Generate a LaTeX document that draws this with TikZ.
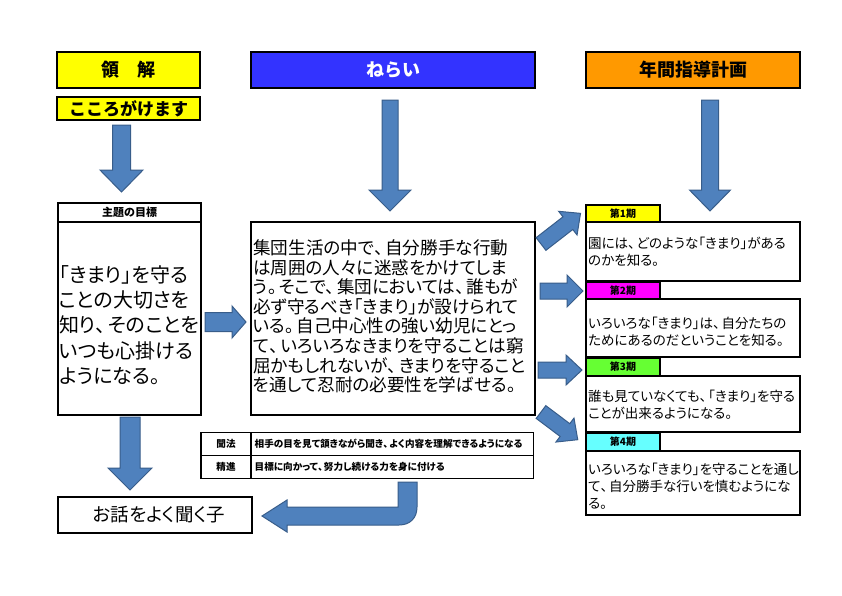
\documentclass[tikz,border=0pt]{standalone}
\usepackage{fontspec}
\setmainfont{Noto Sans CJK JP}[RawFeature=+palt]
\newfontfamily\jpf{Noto Sans CJK JP}
\definecolor{hyellow}{HTML}{FFFF00}
\definecolor{hblue}{HTML}{3333FF}
\definecolor{horange}{HTML}{FF9900}
\definecolor{hmag}{HTML}{FF00FF}
\definecolor{hgreen}{HTML}{66FF33}
\definecolor{hcyan}{HTML}{66FFFF}
\definecolor{arrfill}{HTML}{4F81BD}
\definecolor{arrdraw}{HTML}{385D8A}
\newcommand\blockarr[7]{\draw[barrow,shift={#1},rotate=#2] (0,-#5)--(#3-#4,-#5)--(#3-#4,-#6)--(#3,0)--(#3-#4,#6)--(#3-#4,#5)--(0,#5)--cycle;}
\newcommand\tou{\makebox[0.62em][l]{、}}
\newcommand\kuten{\makebox[0.62em][l]{。}}
\begin{document}
\begin{tikzpicture}[x=1pt,y=-1pt,
  hdr/.style={draw=black,line width=2.2pt,inner sep=0pt,font=\jpf\bfseries\fontsize{18}{20}\selectfont},
  cell/.style={draw=black,line width=1.6pt,inner sep=0pt},
  tab/.style={draw=black,line width=1.6pt,inner sep=0pt,minimum width=74,minimum height=17,font=\jpf\bfseries\fontsize{10}{11}\selectfont},
  rtext/.style={anchor=west,align=left,inner sep=0pt,font=\fontsize{13.5}{17}\selectfont},
  tcell/.style={draw=black,line width=1.4pt,inner sep=0pt,minimum height=23,font=\bfseries\fontsize{9.6}{10}\selectfont},
  barrow/.style={fill=arrfill,draw=arrdraw,line width=1pt,line join=miter}]
\useasboundingbox (0,0) rectangle (842,595);
\fill[white] (0,0) rectangle (842,595);
% headers
\node[hdr,fill=hyellow,minimum width=143,minimum height=36] (ryo) at (128.5,70) {領　解};
\node[hdr,fill=hblue,text=white,minimum width=284,minimum height=36] (nerai) at (393,70) {ねらい};
\node[hdr,fill=horange,minimum width=214,minimum height=36] (nenkan) at (693,70) {年間指導計画};
\node[hdr,fill=hyellow,minimum width=143,minimum height=23,font=\jpf\bfseries\fontsize{17}{18}\selectfont] (kokoro) at (128.5,108.5) {こころがけます};
% left box
\node[cell,minimum width=143,minimum height=19,font=\jpf\bfseries\fontsize{11}{12}\selectfont] (theme) at (129.5,212.5) {主題の目標};
\node[cell,minimum width=143,minimum height=193] (lbody) at (129.5,318.5) {};
\node[anchor=west,align=left,inner sep=0pt,font=\fontsize{20}{25.3}\selectfont] (ltext) at (59,325) {「きまり」を守る\\ことの大切さを\\知り\tou そのことを\\いつも心掛ける\\ようになる。};
% middle box
\node[cell,minimum width=284,minimum height=193] (mbody) at (393,318.5) {};
\node[anchor=west,align=left,inner sep=0pt,font=\fontsize{17.6}{19.6}\selectfont] (mtext) at (253,316.5) {集団生活の中で\tou 自分勝手な行動\\は周囲の人々に迷惑をかけてしま\\う\kuten そこで\tou 集団においては\tou 誰もが\\必ず守るべき「きまり」が設けられて\\いる\kuten 自己中心性の強い幼児にとっ\\て\tou いろいろなきまりを守ることは窮\\屈かもしれないが\tou きまりを守ること\\を通して忍耐の必要性を学ばせる。};
% table
\node[tcell,minimum width=50] (hl1) at (226,444) {聞法};
\node[tcell,minimum width=282,anchor=west,text width=276,inner xsep=3pt,align=left] (ht1) at (251,444) {相手の目を見て頷きながら聞き\tou よく内容を理解できるようになる};
\node[tcell,minimum width=50] (hl2) at (226,467) {精進};
\node[tcell,minimum width=282,anchor=west,text width=276,inner xsep=3pt,align=left] (ht2) at (251,467) {目標に向かって\tou 努力し続ける力を身に付ける};
% bottom-left box
\node[cell,minimum width=194,minimum height=36,font=\fontsize{18.5}{20}\selectfont] (ohanashi) at (155,515) {\hspace{8pt}お話をよく聞く子};
% right side
\node[tab,fill=hyellow] (t1) at (623,213.5) {第1期};
\node[cell,minimum width=214,minimum height=59] (b1) at (693,251.5) {};
\node[rtext] (r1) at (588,251.5) {園には\tou どのような「きまり」がある\\のかを知る。};
\node[tab,fill=hmag] (t2) at (623,290.5) {第2期};
\node[cell,minimum width=214,minimum height=58] (b2) at (693,328) {};
\node[rtext] (r2) at (588,331.5) {いろいろな「きまり」は\tou 自分たちの\\ためにあるのだということを知る。};
\node[tab,fill=hgreen] (t3) at (623,367) {第3期};
\node[cell,minimum width=214,minimum height=56] (b3) at (693,404) {};
\node[rtext] (r3) at (588,404.5) {誰も見ていなくても\tou「きまり」を守る\\ことが出来るようになる。};
\node[tab,fill=hcyan] (t4) at (623,442) {第4期};
\node[cell,minimum width=214,minimum height=64] (b4) at (693,483) {};
\node[rtext] (r4) at (588,486) {いろいろな「きまり」を守ることを通し\\て\tou 自分勝手な行いを慎むようにな\\る。};
% block arrows
\blockarr{(121.5,125)}{-90}{67}{22}{9}{21.5}{}
\blockarr{(390,100)}{-90}{111}{21}{8}{21}{}
\blockarr{(710,100)}{-90}{111}{21}{8.5}{20.5}{}
\blockarr{(205,322)}{0}{41}{14}{9.5}{16}{}
\blockarr{(130,417)}{-90}{73}{22}{10}{22}{}
\blockarr{(541,244)}{37.8}{50}{16}{8}{15}{}
\blockarr{(540,291)}{0}{43}{16}{8}{16}{}
\blockarr{(538,370)}{0}{44}{16}{8}{15}{}
\blockarr{(541,412)}{-37}{46}{16}{8}{15}{}
% bent arrow
\draw[barrow] (398,482)--(417,482)--(417,507) .. controls (417,518) and (410,525) .. (399,525)
  --(287,525)--(287,532)--(262,516)--(287,500)--(287,507)--(398,507)--cycle;
\end{tikzpicture}
\end{document}
